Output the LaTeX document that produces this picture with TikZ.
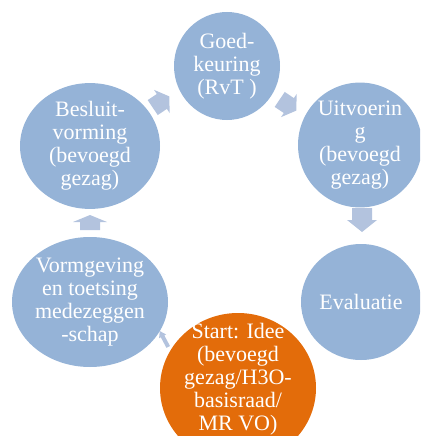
\documentclass[tikz,border=0pt]{standalone}
\usepackage{fontspec}
\setmainfont{Liberation Serif}
\usetikzlibrary{shapes.geometric}

\definecolor{stepblue}{HTML}{95B3D7}
\definecolor{startorange}{HTML}{E36C0A}
\definecolor{arrowblue}{HTML}{B3C3DE}

% block arrow: centre, angle, length, shaft half width, head half width, head length
\newcommand\blockarrow[7]{%
  \fill[cyclearrow, shift={(#1,#2)}, rotate=#3]
    (-#4/2,-#5) -- (#4/2-#7,-#5) -- (#4/2-#7,-#6) -- (#4/2,0)
    -- (#4/2-#7,#6) -- (#4/2-#7,#5) -- (-#4/2,#5) -- cycle;}

\begin{document}
\begin{tikzpicture}[
  x=1pt, y=-1pt,
  stage/.style={
    ellipse,
    fill=stepblue,
    draw=none,
    inner sep=0pt,
    text=white,
    align=center,
    font=\fontsize{22}{23}\selectfont
  },
  cyclearrow/.style={
    fill=arrowblue
  }
]

\path[use as bounding box] (0,0) rectangle (420,436);
\clip (0,0) rectangle (420,436);

\blockarrow{161}{102}{34}{20}{9}{14}{9}
\blockarrow{288}{105}{-34}{20}{9}{14}{9}
\blockarrow{362}{220}{-90}{24}{10}{15}{12}
\blockarrow{164}{339}{118}{18}{2}{4}{6}
\blockarrow{90}{222.5}{90}{15}{10}{17}{7}

\node[stage, minimum width=106pt, minimum height=108pt] (goed) at (227,66)
  {Goed-\\keuring\\(RvT )};
\node[stage, minimum width=124pt, minimum height=114pt] (uitv) at (360,145)
  {Uitvoerin\\g\\(bevoegd\\gezag)};
\node[stage, minimum width=120pt, minimum height=116pt] (eval) at (361,302)
  {Evaluatie};
\node[stage, fill=startorange, minimum width=156pt, minimum height=150pt] (start) at (238,388) {};
\node[stage, fill=none] (starttext) at (238,379)
  {Start: Idee\\(bevoegd\\gezag/H3O-\\basisraad/\\MR VO)};
\node[stage, minimum width=156pt, minimum height=130pt] (vorm) at (90,302)
  {Vormgeving\\en toetsing\\medezeggen\\-schap};
\node[stage, minimum width=140pt, minimum height=122pt] (besl) at (90,146)
  {Besluit-\\vorming\\(bevoegd\\gezag)};

\end{tikzpicture}
\end{document}
